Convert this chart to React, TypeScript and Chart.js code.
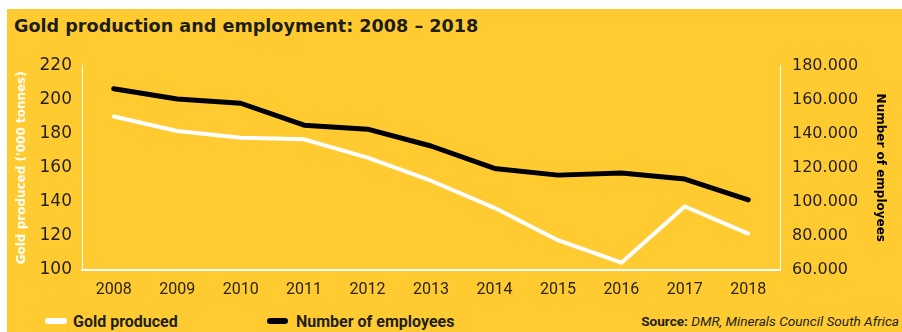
import React, { useEffect, useRef } from 'react';
import { Chart, registerables } from 'chart.js';

Chart.register(...registerables);

const years = ['2008', '2009', '2010', '2011', '2012', '2013', '2014', '2015', '2016', '2017', '2018'];
const goldProduced = [190.1, 181.6, 177.7, 176.7, 166.0, 152.4, 136.5, 117.5, 104.3, 137.3, 121.4];
const employees = [166400, 160400, 157900, 145000, 142700, 132800, 119600, 115700, 116900, 113400, 101200];
const goldAxis = { min: 100, max: 220, step: 20 };
const employeeAxis = { min: 60000, max: 180000, step: 20000 };

const titleText = 'Gold production and employment: 2008 – 2018';
const leftAxisTitle = "Gold produced ('000 tonnes)";
const rightAxisTitle = 'Number of employees';
const goldLabel = 'Gold produced';
const employeeLabel = 'Number of employees';

const YELLOW = '#FFCB31';
const DARK = '#231f20';
const NUM_FONT = '"DejaVu Sans", sans-serif';
const TEXT_FONT = 'Roboto, sans-serif';

function formatThousands(v: number): string {
  const s = Math.round(v).toString();
  return s.replace(/\B(?=(\d{3})+(?!\d))/g, '.');
}

export default function App() {
  const canvasRef = useRef<HTMLCanvasElement | null>(null);

  useEffect(() => {
    document.body.style.margin = '0';
    const canvas = canvasRef.current;
    if (!canvas) return;
    const chart = new Chart(canvas, {
      type: 'line',
      data: {
        labels: years,
        datasets: [
          {
            label: employeeLabel,
            data: employees,
            yAxisID: 'yRight',
            borderColor: '#000000',
            borderWidth: 5,
            pointRadius: 0,
            borderCapStyle: 'round',
            borderJoinStyle: 'round',
            tension: 0,
          },
          {
            label: goldLabel,
            data: goldProduced,
            yAxisID: 'yLeft',
            borderColor: '#ffffff',
            borderWidth: 4,
            pointRadius: 0,
            borderCapStyle: 'round',
            borderJoinStyle: 'round',
            tension: 0,
          },
        ],
      },
      options: {
        responsive: false,
        animation: false,
        devicePixelRatio: 1,
        layout: { padding: 0 },
        plugins: {
          legend: { display: false },
          tooltip: { enabled: false },
          title: { display: false },
        },
        scales: {
          x: {
            offset: true,
            grid: { display: false, drawTicks: false },
            border: { display: true, color: '#ffffff', width: 2 },
            ticks: {
              color: '#2b2410',
              font: { family: TEXT_FONT, size: 16 },
              padding: 10,
              maxRotation: 0,
              autoSkip: false,
            },
            afterFit: (scale: any) => {
              scale.height = 34;
            },
          },
          yLeft: {
            type: 'linear',
            position: 'left',
            min: goldAxis.min,
            max: goldAxis.max,
            grid: { display: false, drawTicks: false },
            border: { display: true, color: '#ffffff', width: 1 },
            ticks: {
              stepSize: goldAxis.step,
              color: DARK,
              font: { family: NUM_FONT, size: 17 },
              padding: 10,
            },
            title: {
              display: true,
              text: leftAxisTitle,
              color: '#ffffff',
              font: { family: NUM_FONT, size: 12, weight: 'bold' },
              padding: { top: 8, bottom: 0 },
            },
            afterFit: (scale: any) => {
              scale.width = 75;
            },
          },
          yRight: {
            type: 'linear',
            position: 'right',
            min: employeeAxis.min,
            max: employeeAxis.max,
            grid: { display: false, drawTicks: false },
            border: { display: true, color: '#ffffff', width: 1 },
            ticks: {
              stepSize: employeeAxis.step,
              color: DARK,
              font: { family: NUM_FONT, size: 16 },
              padding: 12,
              callback: (v: any) => formatThousands(Number(v)),
            },
            title: {
              display: true,
              text: rightAxisTitle,
              color: '#000000',
              font: { family: NUM_FONT, size: 12, weight: 'bold' },
              padding: { top: 15, bottom: 0 },
            },
            afterFit: (scale: any) => {
              scale.width = 122;
            },
          },
        },
      },
    } as any);
    return () => chart.destroy();
  }, []);

  return (
    <div
      style={{
        position: 'absolute',
        left: 7,
        top: 9,
        width: 895,
        height: 323,
        background: YELLOW,
        overflow: 'hidden',
      }}
    >
      <div
        style={{
          position: 'absolute',
          left: 7,
          top: 5,
          fontFamily: NUM_FONT,
          fontWeight: 'bold',
          fontSize: 17.6,
          lineHeight: '24px',
          color: '#1d1d1b',
          whiteSpace: 'nowrap',
        }}
      >
        {titleText}
      </div>
      <canvas
        ref={canvasRef}
        width={895}
        height={260}
        style={{ position: 'absolute', left: 0, top: 35, width: 895, height: 260 }}
      />
      <div
        style={{
          position: 'absolute',
          left: 38,
          top: 302,
          height: 20,
          display: 'flex',
          alignItems: 'center',
          fontFamily: TEXT_FONT,
          fontWeight: 'bold',
          fontSize: 16,
          color: DARK,
          whiteSpace: 'nowrap',
        }}
      >
        <span style={{ display: 'inline-block', width: 22, height: 6, borderRadius: 3, background: '#ffffff', marginRight: 6 }} />
        <span style={{ width: 194 }}>{goldLabel}</span>
        <span style={{ display: 'inline-block', width: 21, height: 6, borderRadius: 3, background: '#000000', marginRight: 8 }} />
        <span>{employeeLabel}</span>
      </div>
      <div
        style={{
          position: 'absolute',
          right: 3,
          top: 302,
          height: 20,
          lineHeight: '20px',
          fontFamily: TEXT_FONT,
          fontSize: 13.6,
          color: DARK,
          whiteSpace: 'nowrap',
        }}
      >
        <span style={{ fontWeight: 'bold' }}>Source: </span>
        <span style={{ fontStyle: 'italic' }}>DMR, Minerals Council South Africa</span>
      </div>
    </div>
  );
}
